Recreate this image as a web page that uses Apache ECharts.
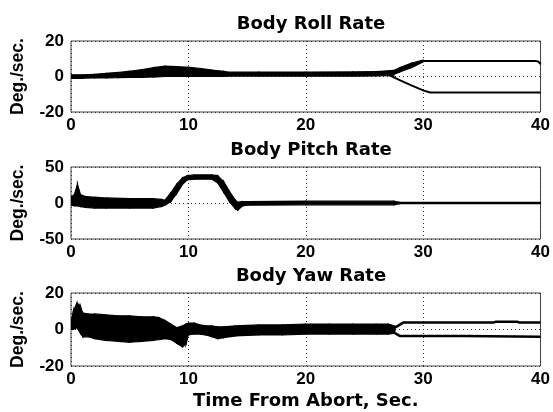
<!DOCTYPE html>
<html>
<head>
<meta charset="utf-8">
<script src="https://cdn.jsdelivr.net/npm/echarts@6/dist/echarts.min.js"></script>
<style>
  html, body { margin: 0; padding: 0; background: #fff; }
  #chart { width: 553px; height: 412px; }
</style>
</head>
<body>
<div id="chart"></div>
<script>
// --- data (envelopes of the dense black traces) ---
var titles = ['Body Roll Rate', 'Body Pitch Rate', 'Body Yaw Rate'];
var xTitle = 'Time From Abort, Sec.';
var yTitle = 'Deg./sec.';

// roll rate: noisy band, then the two branches after ~27 s
var rollT  = [0, 1, 2, 3, 4, 5, 6, 7, 8, 9, 10, 11, 12, 13, 13.3, 16, 20, 24, 26, 27, 27.5];
var rollLo = [-1, -1, -0.8, -0.8, -0.6, -0.5, -0.5, -0.3, 0, 0, 0, 0, 0, 0, 0.2, 0.2, 0.2, 0.2, 0.3, 0.5, 0.5];
var rollHi = [1, 1, 1.2, 1.8, 2.3, 3, 3.8, 5, 5.8, 5.6, 5.2, 4.5, 3.6, 3, 2.5, 2.5, 2.5, 2.6, 2.8, 3.2, 3.5];
var rollFanT  = [27.2, 28, 29, 30];
var rollFanLo = [0.5, 2.5, 5, 8.3];
var rollFanHi = [2.5, 5, 7.5, 9.3];
var rollUpT = [30, 39.5, 39.8, 40];
var rollUpV = [8.8, 8.8, 8.5, 7];
var rollDnT = [27.2, 28, 29, 30, 30.6, 40];
var rollDnV = [0.5, -2, -5, -7.8, -9, -9];

// pitch rate band
var pitchT  = [0, 0.3, 0.55, 0.8, 1.2, 2, 3, 5, 7, 7.7, 8, 8.5, 9, 9.5, 9.9, 10.5, 12, 12.5, 13, 13.5, 14, 14.2, 14.6, 15, 20, 27.5, 28, 40];
var pitchLo = [-3, -4, -4, -5, -6, -7, -7, -7, -7, -5, -3, 2, 13, 26, 32, 33, 33, 28, 15, 2, -8, -10, -4, -3, -2.5, -2.5, -1, -1];
var pitchHi = [8, 12, 26, 12, 9, 8, 7, 6, 6, 5, 4, 14, 26, 35, 38, 39, 39, 38, 30, 16, 4, 1, 2, 2, 2.5, 2.5, 1, 1];

// yaw rate band, then two flat branches
var yawT  = [0, 0.2, 0.5, 0.8, 1, 1.5, 2, 3, 4, 5, 6, 7, 7.5, 8, 8.5, 9, 9.5, 9.8, 10, 10.5, 11, 11.5, 12, 12.5, 13, 14, 16, 18, 20, 22, 24, 26, 27, 27.6];
var yawLo = [0, 0, 1, -2, -4, -4, -5, -6, -6.5, -7, -6.5, -6, -5.5, -5, -5.5, -7.5, -9.5, -8, -3, -2.5, -2.5, -3, -4, -5, -4.5, -3.5, -3, -3, -2.5, -2.5, -2.5, -2.5, -2.5, -2];
var yawHi = [4, 10, 14.5, 13, 9, 8.5, 8.5, 8, 7.5, 7.5, 7, 7, 6.5, 5, 3, 1, 2, 3, 3.5, 3.5, 2.5, 2, 2, 1.5, 1.5, 2, 2.5, 2.5, 3, 3, 3, 3, 3, 2];
var yawUpT = [27.6, 28.3, 36, 36.2, 38, 38.2, 40];
var yawUpV = [1, 3.8, 3.8, 4.3, 4.3, 3.8, 3.8];
var yawDnT = [27.6, 28, 33.5, 33.6, 40];
var yawDnV = [-2, -3.5, -3.5, -4, -4];

var yMin = [-20, -50, -20];
var yMax = [20, 50, 20];
var yStep = [20, 50, 20];

var tickFont = 'Liberation Sans';
var textFont = 'DejaVu Sans';

function zip2(t, v) {
    return t.map(function (x, i) { return [x, v[i]]; });
}
function zip3(t, lo, hi) {
    return t.map(function (x, i) { return [x, lo[i], hi[i]]; });
}

// filled envelope between lo and hi, one quad per segment
function band(idx, t, lo, hi) {
    var rows = zip3(t, lo, hi);
    return {
        type: 'custom',
        xAxisIndex: idx,
        yAxisIndex: idx,
        silent: true,
        clip: true,
        data: rows,
        encode: { x: 0, y: [1, 2] },
        renderItem: function (params, api) {
            var i = params.dataIndexInside;
            if (i >= rows.length - 1) return null;
            var a = rows[i], b = rows[i + 1];
            var pts = [
                api.coord([a[0], a[1]]),
                api.coord([b[0], b[1]]),
                api.coord([b[0], b[2]]),
                api.coord([a[0], a[2]])
            ];
            return {
                type: 'polygon',
                shape: { points: pts },
                style: { fill: '#000', stroke: '#000', lineWidth: 1.2 }
            };
        }
    };
}

function line(idx, t, v, w) {
    return {
        type: 'line',
        xAxisIndex: idx,
        yAxisIndex: idx,
        data: zip2(t, v),
        showSymbol: false,
        silent: true,
        animation: false,
        lineStyle: { color: '#000', width: w }
    };
}

var chart = echarts.init(document.getElementById('chart'));

var gridTops = [41, 167, 293];
var gridH = [71, 72, 73];

var grids = [], xAxes = [], yAxes = [], titleList = [];
for (var k = 0; k < 3; k++) {
    grids.push({
        left: 71, right: 11, top: gridTops[k], height: gridH[k],
        show: true, borderColor: '#444', borderWidth: 1, backgroundColor: '#fff'
    });
    xAxes.push({
        type: 'value', gridIndex: k, min: 0, max: 40, interval: 10,
        axisLine: { show: false }, axisTick: { show: false },
        axisLabel: { color: '#000', fontFamily: tickFont, fontWeight: 'bold', fontSize: 17, margin: 5 },
        splitLine: { show: true, lineStyle: { color: '#333', type: [1, 3], width: 1 } },
        name: k === 2 ? xTitle : '',
        nameLocation: 'middle', nameGap: 26,
        nameTextStyle: { color: '#000', fontFamily: textFont, fontWeight: 'bold', fontSize: 18 }
    });
    yAxes.push({
        type: 'value', gridIndex: k, min: yMin[k], max: yMax[k], interval: yStep[k],
        axisLine: { show: false }, axisTick: { show: false },
        axisLabel: { color: '#000', fontFamily: tickFont, fontWeight: 'bold', fontSize: 17, margin: 7 },
        splitLine: { show: true, lineStyle: { color: '#333', type: [1, 3], width: 1 } },
        name: yTitle, nameLocation: 'middle', nameRotate: 90, nameGap: 44,
        nameTextStyle: { color: '#000', fontFamily: tickFont, fontWeight: 'bold', fontSize: 17.5 }
    });
    titleList.push({
        text: titles[k], left: 306, top: gridTops[k] - 31, textAlign: 'center',
        textStyle: { color: '#000', fontFamily: textFont, fontWeight: 'bold', fontSize: 18 }
    });
}

chart.setOption({
    animation: false,
    backgroundColor: '#fff',
    title: titleList,
    grid: grids,
    xAxis: xAxes,
    yAxis: yAxes,
    series: [
        band(0, rollT, rollLo, rollHi),
        band(0, rollFanT, rollFanLo, rollFanHi),
        line(0, rollUpT, rollUpV, 2),
        line(0, rollDnT, rollDnV, 2),
        band(1, pitchT, pitchLo, pitchHi),
        band(2, yawT, yawLo, yawHi),
        line(2, yawUpT, yawUpV, 2.5),
        line(2, yawDnT, yawDnV, 2.5)
    ]
});
</script>
</body>
</html>
